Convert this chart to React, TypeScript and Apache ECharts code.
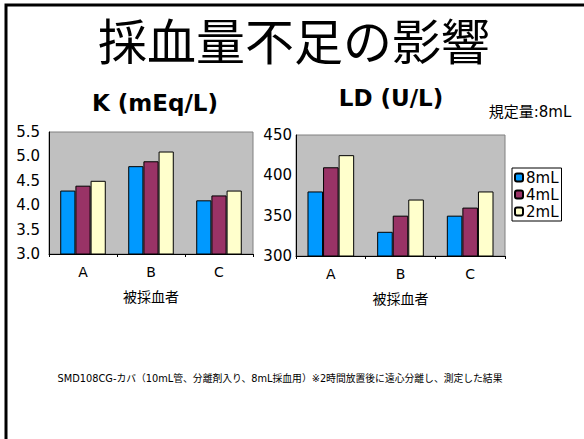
import React, { useEffect, useRef } from "react";
import * as echarts from "echarts";

const categories = ["A", "B", "C"];
const seriesNames = ["8mL", "4mL", "2mL"];
const kValues = [
  [4.3, 4.8, 4.1],
  [4.4, 4.9, 4.2],
  [4.5, 5.1, 4.3],
];
const ldValues = [
  [380, 330, 350],
  [410, 350, 360],
  [425, 370, 380],
];
const colors = ["#0099FF", "#993366", "#FFFFCC"];
const mainTitle = "採血量不足の影響";
const kTitle = "K (mEq/L)";
const ldTitle = "LD (U/L)";
const xAxisName = "被採血者";
const specText = "規定量:8mL";
const footnote = "SMD108CG-カバ（10mL管、分離剤入り、8mL採血用）※2時間放置後に遠心分離し、測定した結果";

const FONT = "DejaVu Sans, Noto Sans CJK JP, sans-serif";

export default function App() {
  const ref = useRef<HTMLDivElement>(null);
  useEffect(() => {
    if (!ref.current) return;
    const chart = echarts.init(ref.current, undefined, { renderer: "svg" });
    const xAxisCommon = {
      type: "category",
      data: categories,
      axisLine: { lineStyle: { color: "#000", width: 1 } },
      axisTick: { show: true, length: 3, lineStyle: { color: "#000" } },
      axisLabel: { color: "#000", fontSize: 14, fontFamily: FONT, margin: 11 },
      name: xAxisName,
      nameLocation: "middle",
      nameGap: 36,
      nameTextStyle: { color: "#000", fontSize: 14, fontFamily: FONT },
    };
    const yAxisCommon = {
      type: "value",
      splitLine: { show: false },
      axisLine: { show: true, lineStyle: { color: "#000", width: 1 } },
      axisTick: { show: false },
    };
    const bars = (vals: number[][], idx: number) =>
      vals.map((v, i) => ({
        name: seriesNames[i],
        type: "bar",
        xAxisIndex: idx,
        yAxisIndex: idx,
        data: v,
        barGap: "0%",
        barCategoryGap: "33%",
        itemStyle: { color: colors[i], borderColor: "#000", borderWidth: 1 },
      }));
    chart.setOption({
      animation: false,
      backgroundColor: "#fff",
      grid: [
        { left: 49, right: 331, top: 132, bottom: 185, show: true, backgroundColor: "#C0C0C0", borderColor: "#808080", borderWidth: 1 },
        { left: 296, right: 79, top: 135, bottom: 183, show: true, backgroundColor: "#C0C0C0", borderColor: "#808080", borderWidth: 1 },
      ],
      xAxis: [
        { ...xAxisCommon, gridIndex: 0 },
        { ...xAxisCommon, gridIndex: 1 },
      ],
      yAxis: [
        {
          ...yAxisCommon,
          gridIndex: 0,
          min: 3,
          max: 5.5,
          interval: 0.5,
          axisLabel: { color: "#000", fontSize: 15, fontFamily: FONT, margin: 9, formatter: (v: number) => v.toFixed(1) },
        },
        {
          ...yAxisCommon,
          gridIndex: 1,
          min: 300,
          max: 450,
          interval: 50,
          axisLabel: { color: "#000", fontSize: 15, fontFamily: FONT, margin: 4 },
        },
      ],
      legend: {
        data: seriesNames,
        orient: "vertical",
        left: 512,
        top: 168,
        itemWidth: 8,
        itemHeight: 8,
        itemGap: 2,
        padding: [2, 3, 2, 2],
        borderColor: "#000",
        borderWidth: 1,
        backgroundColor: "#fff",
        borderRadius: 0,
        textStyle: { color: "#000", fontSize: 15, fontFamily: FONT, padding: [0, 0, 0, -2] },
      },
      series: [...bars(kValues, 0), ...bars(ldValues, 1)],
      graphic: [
        {
          type: "polyline",
          shape: { points: [[6, 439], [6, 5], [584, 5]] },
          style: { stroke: "#000", lineWidth: 3, fill: null },
        },
        {
          type: "text",
          x: 294,
          y: 43,
          style: { text: mainTitle, fontSize: 49, fontFamily: FONT, fill: "#000", align: "center", verticalAlign: "middle" },
        },
        {
          type: "text",
          x: 155,
          y: 103,
          style: { text: kTitle, fontSize: 23, fontWeight: "bold", fontFamily: FONT, fill: "#000", align: "center", verticalAlign: "middle" },
        },
        {
          type: "text",
          x: 391,
          y: 98,
          style: { text: ldTitle, fontSize: 23, fontWeight: "bold", fontFamily: FONT, fill: "#000", align: "center", verticalAlign: "middle" },
        },
        {
          type: "text",
          x: 530,
          y: 112,
          style: { text: specText, fontSize: 15, fontFamily: FONT, fill: "#000", align: "center", verticalAlign: "middle" },
        },
        {
          type: "text",
          x: 280,
          y: 378,
          style: { text: footnote, fontSize: 9.8, fontFamily: FONT, fill: "#000", align: "center", verticalAlign: "middle" },
        },
      ],
    });
    return () => chart.dispose();
  }, []);
  return <div ref={ref} style={{ position: "fixed", left: 0, top: 0, width: 584, height: 439 }} />;
}
